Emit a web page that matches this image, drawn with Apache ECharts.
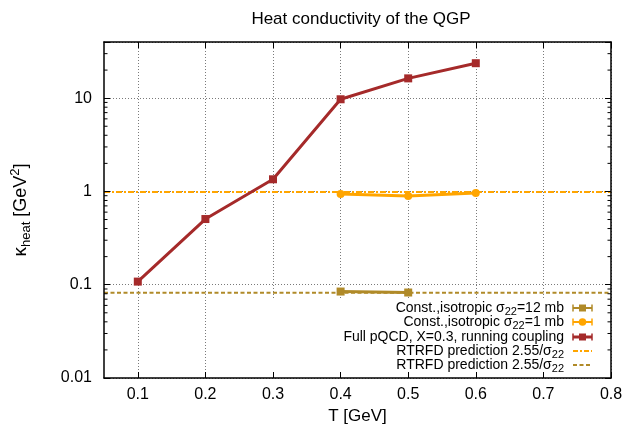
<!DOCTYPE html>
<html>
<head>
<meta charset="utf-8">
<script src="https://cdn.jsdelivr.net/npm/echarts@6/dist/echarts.min.js"></script>
<style>
  html, body { margin: 0; padding: 0; background: #ffffff; }
  #chart { width: 628px; height: 431px; }
</style>
</head>
<body>
<div id="chart"></div>
<script>
// Temperatures (GeV) and heat conductivity kappa_heat (GeV^2)
const pqcdT = [0.1, 0.2, 0.3, 0.4, 0.5, 0.6];
const pqcdKappa = [0.108, 0.506, 1.35, 9.73, 16.3, 23.7];

const sigma1T = [0.4, 0.5, 0.6];
const sigma1Kappa = [0.938, 0.893, 0.962];

const sigma12T = [0.4, 0.5];
const sigma12Kappa = [0.0845, 0.0825];

// RTRFD prediction 2.55/sigma22 (constant in T), drawn across the T range
const rtrfdT = [0.05, 0.8];
const rtrfd1mb = [0.985, 0.985];
const rtrfd12mb = [0.0821, 0.0821];

// Axis ticks
const xTickValues = [0.1, 0.2, 0.3, 0.4, 0.5, 0.6, 0.7, 0.8];
const yMinorTicks = [0.02, 0.03, 0.04, 0.05, 0.06, 0.07, 0.08, 0.09,
                     0.2, 0.3, 0.4, 0.5, 0.6, 0.7, 0.8, 0.9,
                     2, 3, 4, 5, 6, 7, 8, 9, 20, 30];

const FONT = 'Liberation Sans, Arial, Helvetica, sans-serif';
const C_PQCD = '#a52a2a';
const C_ORANGE = '#ffa500';
const C_OLIVE = '#b08a28';

const X_MIN = 0.05, X_MAX = 0.8, Y_MIN = 0.01, Y_MAX = 40;

function pairs(xs, ys) { return xs.map((x, i) => [x, ys[i]]); }

const chart = echarts.init(document.getElementById('chart'), null, { renderer: 'canvas' });

const baseX = { type: 'value', min: X_MIN, max: X_MAX, gridIndex: 0 };
const baseY = { type: 'log', logBase: 10, min: Y_MIN, max: Y_MAX, gridIndex: 0 };

const isDecade = v => Math.abs(Math.log10(v) - Math.round(Math.log10(v))) < 1e-6;

// Key rows
const legendRows = [
  { y: 308, text: 'Const.,isotropic σ{s|22}=12 mb', color: C_OLIVE, kind: 'rect' },
  { y: 322, text: 'Const.,isotropic σ{s|22}=1 mb', color: C_ORANGE, kind: 'circle' },
  { y: 337, text: 'Full pQCD, X=0.3, running coupling', color: C_PQCD, kind: 'rect' },
  { y: 351, text: 'RTRFD prediction 2.55/σ{s|22}', color: C_ORANGE, kind: 'dashdot' },
  { y: 365, text: 'RTRFD prediction 2.55/σ{s|22}', color: C_OLIVE, kind: 'dash' }
];

const legendRich = { s: { fontSize: 11, fontFamily: FONT, fill: '#000', padding: [8, 0, 0, 0], verticalAlign: 'bottom' } };

const graphics = [
  // opaque key background (covers the grid lines only)
  { type: 'rect', z: 1, silent: true, shape: { x: 245, y: 299, width: 366, height: 79 }, style: { fill: '#ffffff' } }
];

const sx0 = 573, sx1 = 592, sxc = 582.5;
legendRows.forEach(r => {
  graphics.push({
    type: 'text', z: 10, x: 564, y: r.y, silent: true,
    style: { text: r.text, rich: legendRich, fontSize: 14, fontFamily: FONT, fill: '#000', align: 'right', verticalAlign: 'middle' }
  });
  if (r.kind === 'rect' || r.kind === 'circle') {
    const lw = r.color === C_PQCD ? 3 : 2;
    graphics.push({ type: 'line', z: 10, silent: true, shape: { x1: sx0, y1: r.y, x2: sx1, y2: r.y }, style: { stroke: r.color, lineWidth: lw } });
    graphics.push({ type: 'line', z: 10, silent: true, shape: { x1: sx0, y1: r.y - 3.5, x2: sx0, y2: r.y + 3.5 }, style: { stroke: r.color, lineWidth: 1.5 } });
    graphics.push({ type: 'line', z: 10, silent: true, shape: { x1: sx1, y1: r.y - 3.5, x2: sx1, y2: r.y + 3.5 }, style: { stroke: r.color, lineWidth: 1.5 } });
    if (r.kind === 'rect') {
      graphics.push({ type: 'rect', z: 10, silent: true, shape: { x: sxc - 3.5, y: r.y - 3.5, width: 7, height: 7 }, style: { fill: r.color } });
    } else {
      graphics.push({ type: 'circle', z: 10, silent: true, shape: { cx: sxc, cy: r.y, r: 3.8 }, style: { fill: r.color } });
    }
  } else {
    graphics.push({
      type: 'line', z: 10, silent: true, shape: { x1: sx0, y1: r.y, x2: sx1, y2: r.y },
      style: { stroke: r.color, lineWidth: 2, lineDash: r.kind === 'dashdot' ? [5, 2, 2, 2] : [4, 2.5] }
    });
  }
});

const option = {
  animation: false,
  backgroundColor: '#ffffff',
  title: {
    text: 'Heat conductivity of the QGP',
    left: 356, top: 6, textAlign: 'center',
    textStyle: { fontFamily: FONT, fontSize: 17, fontWeight: 'normal', color: '#000' }
  },
  grid: { left: 104, right: 17, top: 42, bottom: 53, containLabel: false },
  xAxis: [
    // dotted grid lines (below the key box)
    Object.assign({}, baseX, {
      position: 'bottom', z: 0,
      axisLine: { show: false, onZero: false },
      axisTick: { show: false, customValues: xTickValues },
      axisLabel: { show: false, customValues: xTickValues },
      splitLine: { show: true, lineStyle: { color: '#7a7a7a', width: 1, type: [1, 2] } }
    }),
    // bottom border, ticks, labels
    Object.assign({}, baseX, {
      position: 'bottom', z: 5,
      name: 'T [GeV]', nameLocation: 'middle', nameGap: 28,
      nameTextStyle: { fontFamily: FONT, fontSize: 17, color: '#000' },
      axisLine: { show: true, onZero: false, lineStyle: { color: '#000', width: 1.5 } },
      axisTick: { show: true, inside: true, length: 6, customValues: xTickValues, lineStyle: { color: '#000', width: 1 } },
      axisLabel: { show: true, customValues: xTickValues, margin: 9, fontFamily: FONT, fontSize: 16, color: '#000' },
      splitLine: { show: false }
    }),
    // top border and mirrored ticks
    Object.assign({}, baseX, {
      position: 'top', z: 5,
      axisLine: { show: true, onZero: false, lineStyle: { color: '#000', width: 1.5 } },
      axisTick: { show: true, inside: true, length: 6, customValues: xTickValues, lineStyle: { color: '#000', width: 1 } },
      axisLabel: { show: false, customValues: xTickValues },
      splitLine: { show: false }
    })
  ],
  yAxis: [
    Object.assign({}, baseY, {
      position: 'left', z: 0,
      axisLine: { show: false, onZero: false },
      axisTick: { show: false },
      axisLabel: { show: false },
      splitLine: { show: true, lineStyle: { color: '#7a7a7a', width: 1, type: [1, 2] } }
    }),
    Object.assign({}, baseY, {
      position: 'left', z: 5,
      name: '{k|κ}{sub|heat} [GeV{sup|2}]', nameLocation: 'middle', nameGap: 71,
      nameTextStyle: {
        fontFamily: FONT, fontSize: 18, color: '#000',
        rich: {
          k: { fontFamily: FONT, fontSize: 19, color: '#000' },
          sub: { fontFamily: FONT, fontSize: 13, color: '#000', padding: [11, 0, 0, 0], verticalAlign: 'bottom' },
          sup: { fontFamily: FONT, fontSize: 13, color: '#000', padding: [0, 0, 11, 0], verticalAlign: 'top' }
        }
      },
      axisLine: { show: true, onZero: false, lineStyle: { color: '#000', width: 1.5 } },
      axisTick: { show: true, inside: true, length: 6, lineStyle: { color: '#000', width: 1 } },
      axisLabel: {
        show: true, margin: 12, fontFamily: FONT, fontSize: 16, color: '#000',
        formatter: v => isDecade(v) ? String(Number(v.toPrecision(6))) : ''
      },
      splitLine: { show: false }
    }),
    Object.assign({}, baseY, {
      position: 'right', z: 5,
      axisLine: { show: true, onZero: false, lineStyle: { color: '#000', width: 1.5 } },
      axisTick: { show: true, inside: true, length: 6, lineStyle: { color: '#000', width: 1 } },
      axisLabel: { show: false },
      splitLine: { show: false }
    })
  ],
  graphic: graphics,
  series: [
    {
      name: 'RTRFD 1 mb', type: 'line', xAxisIndex: 0, yAxisIndex: 0, z: 2,
      data: pairs(rtrfdT, rtrfd1mb), symbol: 'none', silent: true,
      lineStyle: { color: C_ORANGE, width: 2, type: [6, 2, 2, 2] }
    },
    {
      name: 'RTRFD 12 mb', type: 'line', xAxisIndex: 0, yAxisIndex: 0, z: 2,
      data: pairs(rtrfdT, rtrfd12mb), symbol: 'none', silent: true,
      lineStyle: { color: C_OLIVE, width: 2, type: [4, 2.5] }
    },
    {
      name: 'sigma 12 mb', type: 'line', xAxisIndex: 0, yAxisIndex: 0, z: 3,
      data: pairs(sigma12T, sigma12Kappa), symbol: 'rect', symbolSize: 8,
      itemStyle: { color: C_OLIVE }, lineStyle: { color: C_OLIVE, width: 3 }
    },
    {
      name: 'sigma 1 mb', type: 'line', xAxisIndex: 0, yAxisIndex: 0, z: 3,
      data: pairs(sigma1T, sigma1Kappa), symbol: 'circle', symbolSize: 8,
      itemStyle: { color: C_ORANGE }, lineStyle: { color: C_ORANGE, width: 3 }
    },
    {
      name: 'Full pQCD', type: 'line', xAxisIndex: 0, yAxisIndex: 0, z: 3,
      data: pairs(pqcdT, pqcdKappa), symbol: 'rect', symbolSize: 8,
      itemStyle: { color: C_PQCD }, lineStyle: { color: C_PQCD, width: 3 }
    },
    {
      // minor ticks of the logarithmic axis on both sides of the frame
      name: 'minor ticks', type: 'custom', coordinateSystem: 'cartesian2d',
      xAxisIndex: 0, yAxisIndex: 0, z: 6, silent: true, clip: false,
      data: yMinorTicks.map(v => [X_MIN, v]),
      renderItem: function (params, api) {
        const p = api.coord([api.value(0), api.value(1)]);
        const cs = params.coordSys;
        const len = 3.5;
        return {
          type: 'group',
          children: [
            { type: 'line', shape: { x1: cs.x, y1: p[1], x2: cs.x + len, y2: p[1] }, style: { stroke: '#000', lineWidth: 1 } },
            { type: 'line', shape: { x1: cs.x + cs.width - len, y1: p[1], x2: cs.x + cs.width, y2: p[1] }, style: { stroke: '#000', lineWidth: 1 } }
          ]
        };
      }
    }
  ]
};

chart.setOption(option);
</script>
</body>
</html>
